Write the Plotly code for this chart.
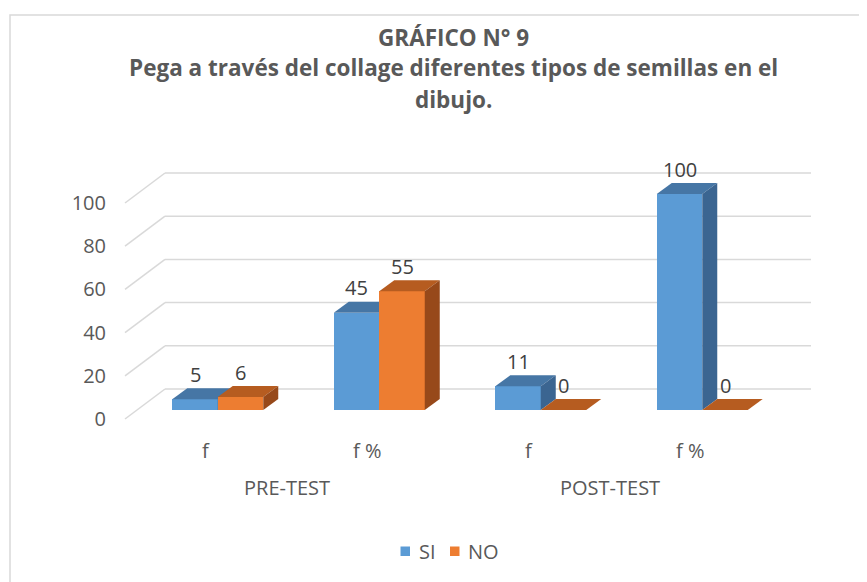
import plotly.graph_objects as go

# ---------------- data ----------------
groups = ["PRE-TEST", "POST-TEST"]
measures = ["f", "f %", "f", "f %"]
series_names = ["SI", "NO"]
si_values = [5, 45, 11, 100]
no_values = [6, 55, 0, 0]
y_ticks = [0, 20, 40, 60, 80, 100]
title_lines = ["GRÁFICO N° 9",
               "Pega a través del collage diferentes tipos de semillas en el",
               "dibujo."]

# ---------------- geometry (pixels, in page coordinates) ----------------
OFF = 8         # page body margin
W, H = 867, 582
L, R, T, B = 107, 45, 152, 148
X0 = 125.0 - OFF   # pixel of front-left floor corner (x = -0.5)
CAT = 161.5        # pixels per category
Y0 = 419.0 - OFF   # pixel of y = 0 on front plane
SY = 2.16          # pixels per unit

x_range = [(L - X0) / CAT - 0.5, (W - R - X0) / CAT - 0.5]
y_range = [(Y0 - (H - B)) / SY, (Y0 - T) / SY]


def dx(px):
    return px / CAT


def dy(px):
    return px / SY


def paper_x(px):
    return (px - OFF - L) / (W - L - R)


def paper_y(py):
    return ((H - B) - (py - OFF)) / (H - T - B)


WALL_DX, WALL_DY = dx(40), dy(30)
BAR_OFF_X, BAR_OFF_Y = dx(12), dy(9)
BAR_DX, BAR_DY = dx(15), dy(11)
BAR_W = dx(45.5)

colors = {
    "SI": {"front": "#5B9BD5", "top": "#4676A5", "side": "#3B6591"},
    "NO": {"front": "#ED7D31", "top": "#B65C20", "side": "#97491A"},
}

TXT = "#595959"
FONT = "Open Sans"

fig = go.Figure()

cats = list(range(len(measures)))
series = [("SI", si_values, -0.5, "x", "y"), ("NO", no_values, 0.5, "x2", "y2")]

annotations = []
shapes = []
for name, vals, side, xa, ya in series:
    c = colors[name]
    xs = [i + BAR_OFF_X + side * BAR_W for i in cats]
    fig.add_trace(go.Bar(
        x=xs, y=vals, base=[BAR_OFF_Y] * len(vals), width=BAR_W,
        name=name, marker=dict(color=c["front"], line=dict(width=0)),
        xaxis=xa, yaxis=ya, hoverinfo="skip", showlegend=False))
    for xc, v in zip(xs, vals):
        xl, xr = xc - BAR_W / 2, xc + BAR_W / 2
        yb, yt = BAR_OFF_Y, BAR_OFF_Y + v
        # top face
        fig.add_trace(go.Scatter(
            x=[xl, xr, xr + BAR_DX, xl + BAR_DX, xl],
            y=[yt, yt, yt + BAR_DY, yt + BAR_DY, yt],
            mode="lines", fill="toself", fillcolor=c["top"],
            line=dict(width=0), showlegend=False, hoverinfo="skip",
            xaxis=xa, yaxis=ya))
        if v > 0:
            # side face
            fig.add_trace(go.Scatter(
                x=[xr, xr + BAR_DX, xr + BAR_DX, xr, xr],
                y=[yb, yb + BAR_DY, yt + BAR_DY, yt, yb],
                mode="lines", fill="toself", fillcolor=c["side"],
                line=dict(width=0), showlegend=False, hoverinfo="skip",
                xaxis=xa, yaxis=ya))
        annotations.append(dict(
            x=xc, y=yt, xref="x", yref="y", yshift=25, text=str(v),
            showarrow=False, font=dict(family=FONT, size=20, color="#404040")))

# gridlines: back wall + left wall diagonals
for v in y_ticks:
    shapes.append(dict(type="line", xref="x", yref="y", layer="below",
                       x0=-0.5, y0=v, x1=-0.5 + WALL_DX, y1=v + WALL_DY,
                       line=dict(color="#D9D9D9", width=1.5)))
    shapes.append(dict(type="line", xref="x", yref="y", layer="below",
                       x0=-0.5 + WALL_DX, y0=v + WALL_DY,
                       x1=len(measures) - 0.5 + WALL_DX, y1=v + WALL_DY,
                       line=dict(color="#D9D9D9", width=1.5)))

# chart border
shapes.append(dict(type="rect", xref="paper", yref="paper", layer="below",
                   x0=paper_x(10), y0=paper_y(15), x1=paper_x(W + 30), y1=paper_y(H + 30),
                   line=dict(color="#D9D9D9", width=1.5), fillcolor="rgba(0,0,0,0)"))

# category labels (front plane)
for i, m in enumerate(measures):
    annotations.append(dict(x=i, y=paper_y(450), xref="x", yref="paper", text=m,
                            showarrow=False, yanchor="middle",
                            font=dict(family=FONT, size=20, color=TXT)))
for g_i, g in enumerate(groups):
    annotations.append(dict(x=2 * g_i + 0.5, y=paper_y(487), xref="x", yref="paper", text=g,
                            showarrow=False, yanchor="middle",
                            font=dict(family=FONT, size=20, color=TXT)))

# title lines
for py, line in zip([37, 68, 100], title_lines):
    annotations.append(dict(x=paper_x(453), y=paper_y(py), xref="paper", yref="paper",
                            text="<b>" + line + "</b>", showarrow=False,
                            xanchor="center", yanchor="middle",
                            font=dict(family=FONT, size=22.5, color=TXT)))

# legend (drawn: square swatch + label)
legend_x = [400.5, 450.0]
for lx, name in zip(legend_x, series_names):
    shapes.append(dict(type="rect", xref="paper", yref="paper",
                       x0=paper_x(lx), x1=paper_x(lx + 9.5),
                       y0=paper_y(546.5), y1=paper_y(556),
                       line=dict(width=0), fillcolor=colors[name]["front"]))
    annotations.append(dict(x=paper_x(lx + 16), y=paper_y(551.5), xref="paper", yref="paper",
                            text=name, showarrow=False, xanchor="left", yanchor="middle",
                            font=dict(family=FONT, size=20, color=TXT)))

axis_common = dict(range=x_range, showgrid=False, zeroline=False, showline=False,
                   showticklabels=False, ticks="", fixedrange=True)
fig.update_layout(
    width=W, height=H,
    margin=dict(l=L, r=R, t=T, b=B, autoexpand=False),
    paper_bgcolor="white", plot_bgcolor="rgba(0,0,0,0)",
    barmode="overlay", bargap=0,
    xaxis=dict(**axis_common),
    xaxis2=dict(**axis_common, overlaying="x", matches="x"),
    yaxis=dict(range=y_range, tickvals=y_ticks, showgrid=False, zeroline=False,
               showline=False, ticks="outside", ticklen=4, tickcolor="rgba(0,0,0,0)",
               tickfont=dict(family=FONT, size=20, color=TXT), fixedrange=True),
    yaxis2=dict(range=y_range, overlaying="y", matches="y", visible=False),
    shapes=shapes, annotations=annotations,
    showlegend=False,
    font=dict(family=FONT, color=TXT),
)

fig.write_html("out.html")
